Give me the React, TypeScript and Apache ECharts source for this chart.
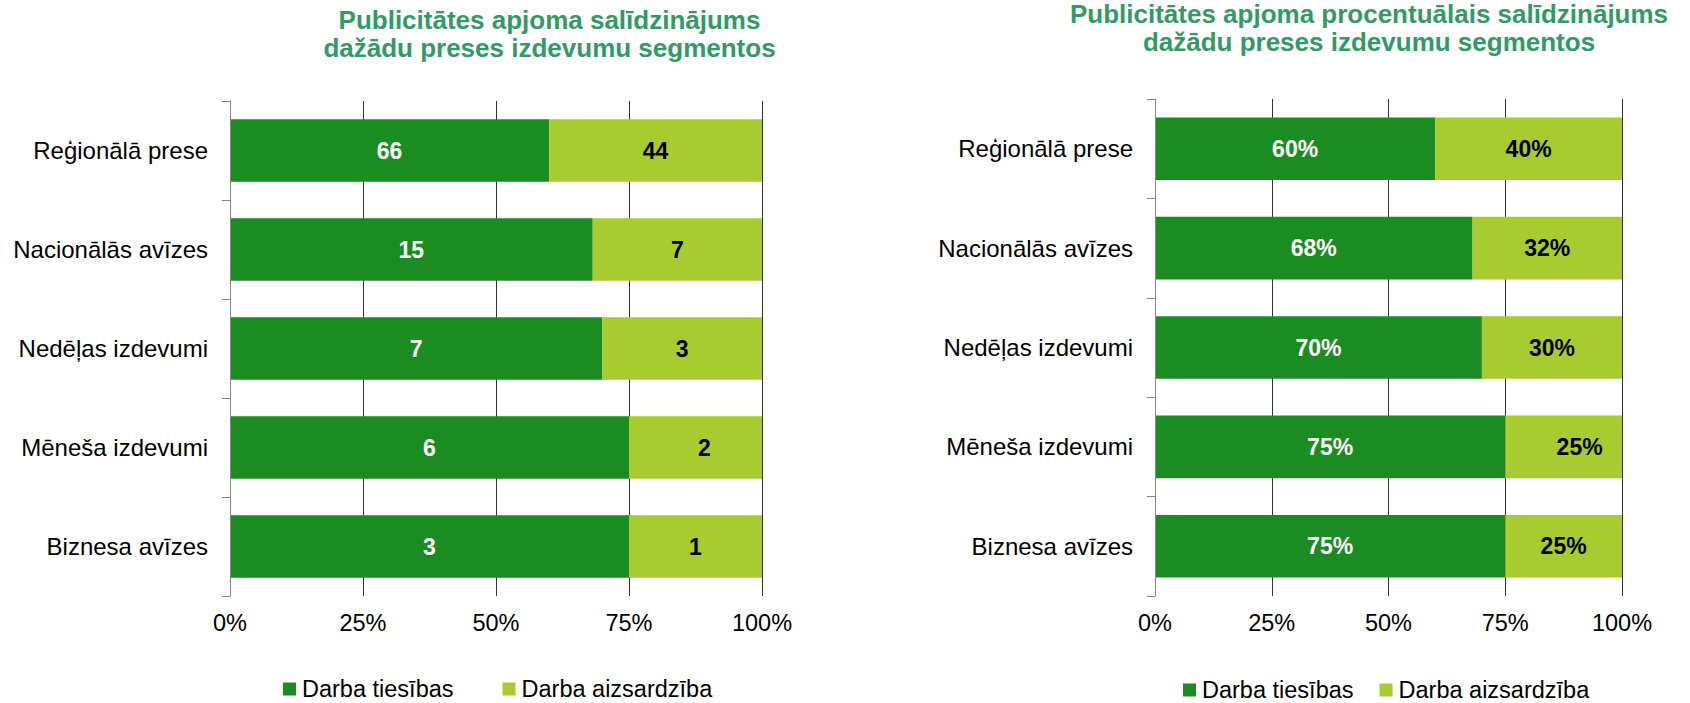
import React, { useEffect, useRef } from "react";
import * as echarts from "echarts";

const categories = [
  "Reģionālā prese",
  "Nacionālās avīzes",
  "Nedēļas izdevumi",
  "Mēneša izdevumi",
  "Biznesa avīzes",
];
const seriesNames = ["Darba tiesības", "Darba aizsardzība"];
// Left chart: absolute counts (drawn as 100% stacked shares)
const countRights = [66, 15, 7, 6, 3];
const countProtection = [44, 7, 3, 2, 1];
// Right chart: percentages
const pctRights = [60, 68, 70, 75, 75];
const pctProtection = [40, 32, 30, 25, 25];
const xTicks = [0, 25, 50, 75, 100];
const titleLeft = "Publicitātes apjoma salīdzinājums\ndažādu preses izdevumu segmentos";
const titleRight =
  "Publicitātes apjoma procentuālais salīdzinājums\ndažādu preses izdevumu segmentos";

const DARK = "#1b8c22";
const LIGHT = "#a8cb2f";
const TITLE = "#339966";
const FONT = "'Liberation Sans', Arial, sans-serif";

export default function App() {
  const ref = useRef<HTMLDivElement>(null);
  useEffect(() => {
    if (!ref.current) return;
    const chart = echarts.init(ref.current, undefined, { renderer: "svg" });

    const labelBase = {
      show: true,
      position: "inside",
      fontSize: 23,
      fontWeight: "bold",
      fontFamily: FONT,
    };

    const leftShare = (a: number[], b: number[]) =>
      a.map((v, i) => (v / (v + b[i])) * 100);

    const nudge = (arr: number[], idx: number, dx: number) =>
      arr.map((v, i) => (i === idx ? { value: v, label: { offset: [dx, 0] } } : v));

    const xAxisBase = (gridIndex: number) => ({
      type: "value",
      gridIndex,
      min: xTicks[0],
      max: xTicks[xTicks.length - 1],
      interval: xTicks[1] - xTicks[0],
      axisLine: { show: false },
      axisTick: { show: false },
      axisLabel: {
        formatter: "{value}%",
        fontSize: 23.5,
        color: "#000",
        fontFamily: FONT,
        margin: 15,
      },
      splitLine: { show: true, lineStyle: { color: "#333", width: 1 } },
    });

    const yAxisBase = (gridIndex: number) => ({
      type: "category",
      gridIndex,
      data: categories,
      inverse: true,
      z: 5,
      axisLine: { show: true, lineStyle: { color: "#868686", width: 1 } },
      axisTick: { show: true, length: 8, lineStyle: { color: "#868686" } },
      axisLabel: { fontSize: 24, color: "#000", fontFamily: FONT, margin: 22 },
    });

    const legendBase = {
      orient: "horizontal",
      padding: 0,
      icon: "rect",
      itemWidth: 13,
      itemHeight: 13,
      data: seriesNames,
      textStyle: { fontSize: 23.5, color: "#000", fontFamily: FONT, padding: [0, 0, 0, 1] },
    };

    const titleStyle = {
      fontSize: 26,
      fontWeight: "bold",
      color: TITLE,
      fontFamily: FONT,
      lineHeight: 28,
    };

    chart.setOption({
      animation: false,
      backgroundColor: "#fff",
      title: [
        { text: titleLeft, left: 549.5, top: 6, padding: 0, textAlign: "center", textStyle: titleStyle },
        { text: titleRight, left: 1369, top: 0, padding: 0, textAlign: "center", textStyle: titleStyle },
      ],
      legend: [
        { ...legendBase, left: 283, top: 677, itemGap: 49 },
        { ...legendBase, left: 1183, top: 678, itemGap: 26 },
      ],
      grid: [
        { left: 230, top: 101, width: 532, height: 495, containLabel: false },
        { left: 1155, top: 99, width: 467, height: 497, containLabel: false },
      ],
      xAxis: [xAxisBase(0), xAxisBase(1)],
      yAxis: [yAxisBase(0), yAxisBase(1)],
      series: [
        {
          name: seriesNames[0],
          type: "bar",
          stack: "left",
          xAxisIndex: 0,
          yAxisIndex: 0,
          barCategoryGap: "37%",
          itemStyle: { color: DARK },
          data: leftShare(countRights, countProtection),
          label: { ...labelBase, color: "#fff", formatter: (p: any) => String(countRights[p.dataIndex]) },
        },
        {
          name: seriesNames[1],
          type: "bar",
          stack: "left",
          xAxisIndex: 0,
          yAxisIndex: 0,
          barCategoryGap: "37%",
          itemStyle: { color: LIGHT },
          data: nudge(leftShare(countProtection, countRights), 3, 9),
          label: { ...labelBase, color: "#000", formatter: (p: any) => String(countProtection[p.dataIndex]) },
        },
        {
          name: seriesNames[0],
          type: "bar",
          stack: "right",
          xAxisIndex: 1,
          yAxisIndex: 1,
          barCategoryGap: "37%",
          itemStyle: { color: DARK },
          data: pctRights,
          label: { ...labelBase, color: "#fff", formatter: "{c}%" },
        },
        {
          name: seriesNames[1],
          type: "bar",
          stack: "right",
          xAxisIndex: 1,
          yAxisIndex: 1,
          barCategoryGap: "37%",
          itemStyle: { color: LIGHT },
          data: nudge(pctProtection, 3, 16),
          label: { ...labelBase, color: "#000", formatter: "{c}%" },
        },
      ],
    });
    return () => chart.dispose();
  }, []);
  return (
    <div
      ref={ref}
      style={{ position: "fixed", left: 0, top: 0, width: 1690, height: 703, background: "#fff" }}
    />
  );
}
